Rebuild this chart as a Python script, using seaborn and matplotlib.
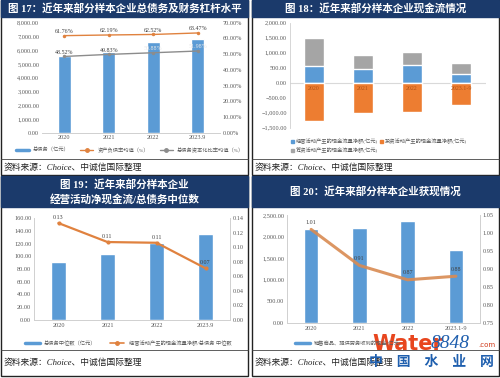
import numpy as np
import matplotlib
matplotlib.use("Agg")
import matplotlib.pyplot as plt
import matplotlib.ticker as mticker
from matplotlib.patches import Rectangle, Patch
from matplotlib.lines import Line2D
import seaborn as sns

# 数据
years_17 = ["2020", "2021", "2022", "2023.9"]
debt_total = [5600, 5840, 6570, 6840]
asset_liab = [61.76, 62.19, 62.52, 63.47]
debt_cap = [48.52, 49.83, 50.88, 51.98]

years_18 = ["2020", "2021", "2022", "2023.1-9"]
cf_oper = [557, 447, 590, 290]
cf_fin = [923, 476, 423, 377]
cf_inv = [-1280, -1020, -990, -740]

years_19 = ["2020", "2021", "2022", "2023.9"]
debt_median = [91, 104, 121, 135]
cf_debt_ratio = [0.13, 0.11, 0.11, 0.07]
cf_debt_pos = [0.133, 0.107, 0.106, 0.071]

years_20 = ["2020", "2021", "2022", "2023.1-9"]
sales_cash = [2180, 2200, 2360, 1690]
cash_ratio = [1.01, 0.91, 0.87, 0.88]

BLUE = "#5B9BD5"
ORANGE = "#ED7D31"
GRAY = "#A5A5A5"
NAVY = "#1b3a6b"
TICK = "#595959"

sns.set_style("white")
plt.rcParams["font.family"] = ["Liberation Serif", "Noto Sans CJK SC", "DejaVu Sans"]

W, H = 500, 378
fig = plt.figure(figsize=(5, 3.78), dpi=100)


def box(x0, y0, x1, y1):
    return [x0 / W, 1 - y1 / H, (x1 - x0) / W, (y1 - y0) / H]


def panel(x0, y0, x1, y1, band, sep, src_y, titles):
    fig.add_artist(Rectangle((x0 / W, 1 - y1 / H), (x1 - x0) / W, (y1 - y0) / H,
                             transform=fig.transFigure, fc="white", ec="#222222", lw=1.0, zorder=0))
    fig.add_artist(Rectangle((x0 / W, 1 - band / H), (x1 - x0) / W, (band - y0) / H,
                             transform=fig.transFigure, fc=NAVY, ec=NAVY, lw=1.0, zorder=1))
    fig.add_artist(Line2D([x0 / W, x1 / W], [1 - sep / H] * 2, transform=fig.transFigure,
                          color="#444444", lw=0.6))
    for ty, t in titles:
        fig.text((x0 + x1) / 2 / W, 1 - ty / H, t, ha="center", va="center",
                 color="white", fontsize=7.6, fontweight="bold")
    fig.text((x0 + 3) / W, 1 - src_y / H, "资料来源：Choice、中诚信国际整理", ha="left",
             va="center", fontsize=6.3, style="italic", color="#222222")


def style_axes(ax, spines=("bottom",)):
    for s in ["top", "bottom", "left", "right"]:
        ax.spines[s].set_visible(s in spines)
        ax.spines[s].set_color("#d0d0d0")
        ax.spines[s].set_linewidth(0.6)
    ax.tick_params(length=0, labelsize=4.5, colors=TICK, pad=2)
    ax.set_xlabel("")
    ax.set_ylabel("")


panel(1, 0, 248, 175, 17, 159, 168, [(8.5, "图 17：近年来部分样本企业总债务及财务杠杆水平")])
panel(252, 0, 499, 175, 17, 159, 168, [(8.5, "图 18：近年来部分样本企业现金流情况")])
panel(1, 176, 248, 376, 207, 350, 363,
      [(184, "图 19：近年来部分样本企业"), (199, "经营活动净现金流/总债务中位数")])
panel(252, 176, 499, 376, 207, 350, 363, [(191, "图 20：近年来部分样本企业获现情况")])

# 图17
ax = fig.add_axes(box(42, 22.7, 220, 132.7))
sns.barplot(x=years_17, y=debt_total, color=BLUE, width=0.3, saturation=1, ax=ax)
ax.set_ylim(0, 8000)
ax.set_yticks(np.arange(0, 8001, 1000))
ax.yaxis.set_major_formatter(mticker.StrMethodFormatter("{x:,.2f}"))
ax2 = ax.twinx()
xs = np.arange(len(years_17))
sns.lineplot(x=xs, y=asset_liab, color="#E0823F", marker="o", markersize=2.5, lw=1,
             markeredgewidth=0, ax=ax2)
sns.lineplot(x=xs, y=debt_cap, color="#8c8c8c", marker="o", markersize=2.5, lw=1,
             markeredgewidth=0, ax=ax2)
ax2.set_ylim(0, 70)
ax2.set_yticks(np.arange(0, 71, 10))
ax2.yaxis.set_major_formatter(mticker.FuncFormatter(lambda v, p: f"{v:.2f}%"))
for i, v in enumerate(asset_liab):
    ax2.text(i, v + 1.2, f"{v:.2f}%", ha="center", va="bottom", fontsize=4.3, color="#404040")
for i, v in enumerate(debt_cap):
    ax2.text(i, v + 1.2, f"{v:.2f}%", ha="center", va="bottom", fontsize=4.3,
             color="#404040" if i < 2 else "#e8e8e8")
ax.set_xlim(-0.5, 3.5)
style_axes(ax)
style_axes(ax2)
h17 = [Line2D([], [], color=BLUE, lw=2.5),
       Line2D([], [], color="#E0823F", lw=1, marker="o", markersize=2.5),
       Line2D([], [], color="#8c8c8c", lw=1, marker="o", markersize=2.5)]
fig.legend(h17, ["总债务（亿元）", "资产负债率均值（%）", "总债务资本化比率均值（%）"],
           loc="center", bbox_to_anchor=(130 / W, 1 - 150 / H), ncol=3, frameon=False,
           fontsize=3.8, handlelength=2.5, columnspacing=2.0, labelcolor=TICK)

# 图18
ax = fig.add_axes(box(289.5, 22.7, 485.5, 127.7))
tot = np.array(cf_oper) + np.array(cf_fin)
sns.barplot(x=years_18, y=tot, color=GRAY, width=0.42, saturation=1, ax=ax)
sns.barplot(x=years_18, y=cf_oper, color=BLUE, width=0.42, saturation=1, ax=ax)
sns.barplot(x=years_18, y=cf_inv, color=ORANGE, width=0.42, saturation=1, ax=ax)
ax.axhline(0, color="#d9d9d9", lw=0.8, zorder=0)
ax.set_ylim(-1500, 2000)
ax.set_yticks(np.arange(-1500, 2001, 500))
ax.yaxis.set_major_formatter(mticker.StrMethodFormatter("{x:,.2f}"))
ax.set_xlim(-0.5, 3.5)
style_axes(ax, spines=("left",))
ax.set_xticks([])
for i, lab in enumerate(years_18):
    ax.text(i, -200, lab, ha="center", va="center", fontsize=4.3, color="#b35418")
h18 = [Patch(color=BLUE), Patch(color=GRAY), Patch(color=ORANGE)]
fig.legend(h18, ["经营活动产生的现金流量净额(亿元)", "筹资活动产生的现金流量净额(亿元)",
                 "投资活动产生的现金流量净额(亿元)"],
           loc="upper left", bbox_to_anchor=(286 / W, 1 - 134 / H), ncol=2, frameon=False,
           fontsize=3.8, handlelength=0.6, handleheight=0.6, handletextpad=0.3,
           columnspacing=0.4, labelspacing=0.6, labelcolor=TICK)

# 图19
ax = fig.add_axes(box(34, 218, 230, 320))
sns.barplot(x=years_19, y=debt_median, color=BLUE, width=0.3, saturation=1, ax=ax)
ax.set_ylim(0, 160)
ax.set_yticks(np.arange(0, 161, 20))
ax.yaxis.set_major_formatter(mticker.StrMethodFormatter("{x:.2f}"))
ax2 = ax.twinx()
sns.lineplot(x=np.arange(len(years_19)), y=cf_debt_pos, color="#E0823F", marker="o",
             markersize=3, lw=1.6, markeredgewidth=0, ax=ax2)
ax2.set_ylim(0, 0.14)
ax2.set_yticks(np.arange(0, 0.141, 0.02))
ax2.yaxis.set_major_formatter(mticker.StrMethodFormatter("{x:.2f}"))
for i, (p, v) in enumerate(zip(cf_debt_pos, cf_debt_ratio)):
    ax2.text(i, p + 0.004, f"{v:.2f}", ha="center", va="bottom", fontsize=4.3, color="#404040")
ax.set_xlim(-0.5, 3.5)
style_axes(ax, spines=("bottom", "left", "right"))
style_axes(ax2, spines=("bottom", "left", "right"))
h19 = [Line2D([], [], color=BLUE, lw=2.5),
       Line2D([], [], color="#E0823F", lw=1.2, marker="o", markersize=2.5)]
fig.legend(h19, ["总债务中位数（亿元）", "经营活动产生的现金流量净额/总债务 中位数"],
           loc="center", bbox_to_anchor=(128 / W, 1 - 343 / H), ncol=2, frameon=False,
           fontsize=3.8, handlelength=2.8, columnspacing=2.5, labelcolor=TICK)

# 图20
ax = fig.add_axes(box(287, 215, 480, 323))
sns.barplot(x=years_20, y=sales_cash, color=BLUE, width=0.3, saturation=1, ax=ax)
ax.set_ylim(0, 2500)
ax.set_yticks(np.arange(0, 2501, 500))
ax.yaxis.set_major_formatter(mticker.StrMethodFormatter("{x:,.2f}"))
ax2 = ax.twinx()
sns.lineplot(x=np.arange(len(years_20)), y=cash_ratio, color="#D98B52", lw=2.2, alpha=0.9, ax=ax2)
ax2.set_ylim(0.75, 1.05)
ax2.set_yticks(np.arange(0.75, 1.051, 0.05))
ax2.yaxis.set_major_formatter(mticker.StrMethodFormatter("{x:.2f}"))
for i, v in enumerate(cash_ratio):
    ax2.text(i, v + 0.012, f"{v:.2f}", ha="center", va="bottom", fontsize=4.3, color="#404040")
ax.set_xlim(-0.5, 3.5)
style_axes(ax, spines=("bottom", "left", "right"))
style_axes(ax2, spines=("bottom", "left", "right"))
fig.legend([Line2D([], [], color=BLUE, lw=2.5)], ["销售商品、提供劳务收到的现金(亿元)"],
           loc="center left", bbox_to_anchor=(290 / W, 1 - 343 / H), frameon=False,
           fontsize=3.8, handlelength=2.8, labelcolor=TICK)

# 水印
fig.text(372 / W, 1 - 350 / H, "Water", fontsize=15, fontweight="bold", color="#e8461e",
         family="DejaVu Sans", ha="left", va="baseline")
fig.text(431 / W, 1 - 348 / H, "8848", fontsize=14, style="italic", color="#1f5fae",
         family="Liberation Serif", ha="left", va="baseline")
fig.text(478 / W, 1 - 347 / H, ".com", fontsize=5, color="#d03a1a",
         family="DejaVu Sans", ha="left", va="baseline")
fig.text(431 / W, 1 - 362 / H, "中　国　水　业　网", fontsize=10, fontweight="bold",
         color="#1f5fae", family="Noto Sans CJK SC", ha="center", va="center")

fig.savefig("out.png", dpi=100)
